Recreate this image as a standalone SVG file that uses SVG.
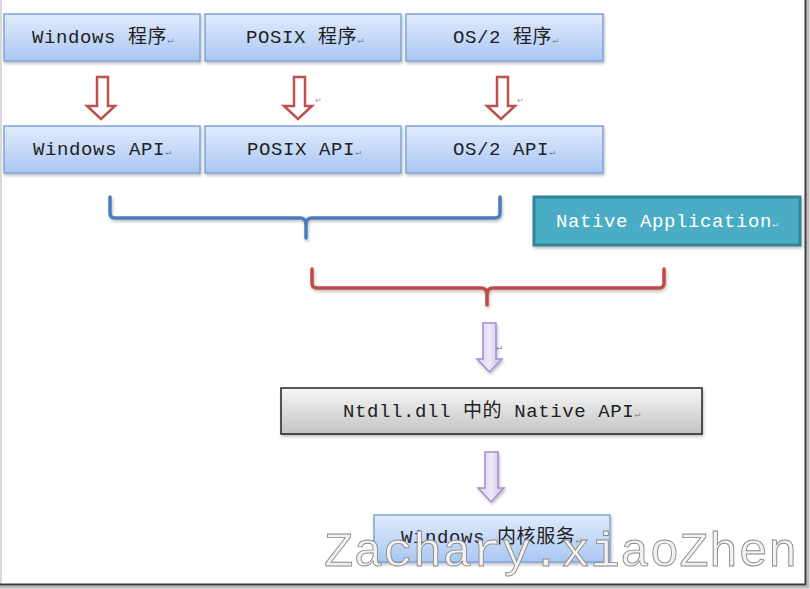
<svg xmlns="http://www.w3.org/2000/svg" width="810" height="589" viewBox="0 0 810 589">
<defs>
<linearGradient id="gBlue" x1="0" y1="0" x2="0" y2="1">
<stop offset="0" stop-color="#e1ebfc"/>
<stop offset="1" stop-color="#a9c7f3"/>
</linearGradient>
<linearGradient id="gGray" x1="0" y1="0" x2="0" y2="1">
<stop offset="0" stop-color="#f7f7f7"/>
<stop offset="1" stop-color="#c4c4c4"/>
</linearGradient>
<linearGradient id="gPurple" x1="0" y1="0" x2="1" y2="0">
<stop offset="0" stop-color="#d9cbef"/>
<stop offset="0.5" stop-color="#efe8f9"/>
<stop offset="1" stop-color="#cdbbea"/>
</linearGradient>
<filter id="sh" x="-10%" y="-10%" width="120%" height="130%">
<feDropShadow dx="1" dy="2" stdDeviation="1.5" flood-color="#000" flood-opacity="0.25"/>
</filter>
</defs>
<style>
.box{fill:url(#gBlue);stroke:#7ea5db;stroke-width:1.5;filter:url(#sh)}
.t{font-family:"Liberation Mono","Noto Sans CJK SC",monospace;font-size:19px;letter-spacing:0.6px;fill:#222}
.cr{font-size:10px;fill:#888;letter-spacing:0}
.red{fill:#fff;stroke:#c0504d;stroke-width:2.5;stroke-linejoin:miter}
.pur{fill:url(#gPurple);stroke:#a48cd0;stroke-width:1.5;filter:url(#sh)}
.br{fill:none;stroke-width:3.5;stroke-linecap:round;stroke-linejoin:round;filter:url(#sh)}
.mark{font-family:"Liberation Sans",sans-serif;font-size:8px;fill:#999}
</style>
<rect x="0" y="0" width="810" height="589" fill="#fff"/>

<g id="win-prog"><rect class="box" x="4" y="14" width="196" height="47"/><text class="t" x="32" y="43">Windows 程序<tspan class="cr">↵</tspan></text></g>
<g id="posix-prog"><rect class="box" x="205" y="14" width="196" height="47"/><text class="t" x="246" y="43">POSIX 程序<tspan class="cr">↵</tspan></text></g>
<g id="os2-prog"><rect class="box" x="406" y="14" width="197" height="47"/><text class="t" x="453" y="43">OS/2 程序<tspan class="cr">↵</tspan></text></g>

<g id="win-api"><rect class="box" x="4" y="126" width="196" height="47"/><text class="t" x="33" y="155">Windows API<tspan class="cr">↵</tspan></text></g>
<g id="posix-api"><rect class="box" x="205" y="126" width="196" height="47"/><text class="t" x="247" y="155">POSIX API<tspan class="cr">↵</tspan></text></g>
<g id="os2-api"><rect class="box" x="406" y="126" width="197" height="47"/><text class="t" x="453" y="155">OS/2 API<tspan class="cr">↵</tspan></text></g>

<g id="native-app"><rect x="534" y="197" width="266" height="48" fill="#4bacc6" stroke="#31849b" stroke-width="3" filter="url(#sh)"/><text class="t" x="556" y="227" style="fill:#fff">Native Application<tspan class="cr" style="fill:#ddd">↵</tspan></text></g>

<g id="ntdll"><rect x="281" y="388" width="421" height="46" fill="url(#gGray)" stroke="#222" stroke-width="1.5" filter="url(#sh)"/><text class="t" x="343" y="417">Ntdll.dll 中的 Native API<tspan class="cr">↵</tspan></text></g>

<g id="kernel"><rect class="box" x="374" y="515" width="236" height="47"/><text class="t" x="401" y="543">Windows 内核服务<tspan class="cr">↵</tspan></text></g>

<g id="connectors">
<path class="red" d="M97,77 H108 V106 H115 L101,119 L87,106 H97 Z"/>
<path class="red" d="M294,77 H305 V106 H312 L298,119 L284,106 H294 Z"/>
<path class="red" d="M497,77 H508 V106 H515 L501,119 L487,106 H497 Z"/>
<text class="mark" x="315" y="103">↵</text>
<text class="mark" x="517" y="103">↵</text>
<path class="br" stroke="#4a7ebb" d="M110,197 V213 Q110,218 115,218 H300 Q306,218 306,225 V238 M306,225 Q306,218 312,218 H495 Q500,218 500,213 V197"/>
<path class="br" stroke="#be4b48" stroke-width="4" d="M312,269 V283 Q312,288 317,288 H481 Q487,288 487,295 V305 M487,295 Q487,288 493,288 H659 Q664,288 664,283 V269"/>
<path class="pur" d="M483,323 H496 V359 H502 L489.5,372 L477,359 H483 Z"/>
<text class="t cr" x="496" y="350">↵</text>
<path class="pur" d="M485,452 H498 V488 H504 L491,502 L478,488 H485 Z"/>
</g>

<text x="324" y="566" font-family="Liberation Mono, monospace" font-size="49" fill="#f2f2f2" stroke="#8a8a8a" stroke-width="0.9" letter-spacing="0.2">Zachary.xiaoZhen</text>

<line x1="1" y1="0" x2="1" y2="584" stroke="#ccc" stroke-width="1.5"/>
<path d="M0,587 H808 V0" fill="none" stroke="#bbb" stroke-width="3"/>
<path d="M0,584.5 H805.5 V0" fill="none" stroke="#3a3a3a" stroke-width="2"/>
</svg>
